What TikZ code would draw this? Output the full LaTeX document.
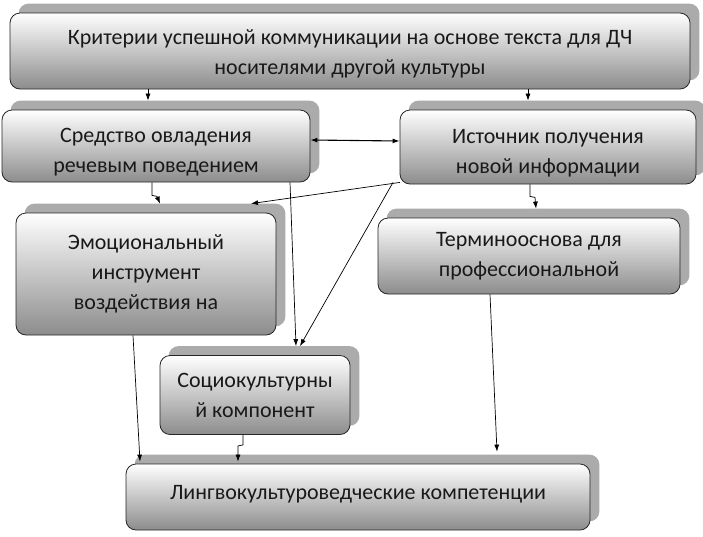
\documentclass[tikz,border=0pt]{standalone}
\usepackage{fontspec}
\setmainfont{Carlito}
\usetikzlibrary{arrows.meta,backgrounds}
\begin{document}
\begin{tikzpicture}[x=1pt,y=-1pt,
  box/.style={draw=black!85, line width=0.8pt, rounded corners=10pt,
    top color=white, bottom color=black!45,
    inner sep=0pt, anchor=center},
  shad/.style={fill=black!33, draw=none, rounded corners=10pt},
  txt/.style={align=center, text=black!90, font=\fontsize{22}{30}\selectfont, inner sep=0pt, anchor=center},
  arr/.style={-{Latex[length=7pt,width=5pt]}, line width=0.7pt, black},
  dar/.style={{Latex[length=7pt,width=5pt]}-{Latex[length=7pt,width=5pt]}, line width=1.1pt, black}]
\useasboundingbox (0,0) rectangle (703,536);
\node[box, minimum width=680pt, minimum height=76pt] (top) at (350,51) {};
\node[txt] (topt) at ([yshift=-3pt]top.center)
  {Критерии успешной коммуникации на основе текста для ДЧ\\носителями другой культуры};
\node[box, minimum width=308pt, minimum height=72pt] (sred) at (156,146) {};
\node[txt] (sredt) at ([yshift=-6pt]sred.center) {Средство овладения\\речевым поведением};
\node[box, minimum width=296pt, minimum height=74pt] (ist) at (548,147) {};
\node[txt] (istt) at ([yshift=-6pt]ist.center) {Источник получения\\новой информации};
\node[box, minimum width=260pt, minimum height=122pt] (emo) at (146,274) {};
\node[txt] (emot) at (emo.center) {Эмоциональный\\инструмент\\воздействия на};
\node[box, minimum width=302pt, minimum height=76pt] (term) at (529,256) {};
\node[txt] (termt) at (term.center) {Терминооснова для\\профессиональной};
\node[box, minimum width=190pt, minimum height=79pt] (soc) at (255,395) {};
\node[txt] (soct) at (soc.center) {Социокультурны\\й компонент};
\node[box, minimum width=464pt, minimum height=66pt] (ling) at (358,497) {};
\node[txt] (lingt) at ([yshift=3pt]ling.center) {Лингвокультуроведческие компетенции};
\begin{scope}[on background layer]
  \foreach \n in {top,sred,ist,emo,term,soc,ling}
    \fill[shad] ([shift={(9pt,9pt)}]\n.south west) rectangle ([shift={(9pt,9pt)}]\n.north east);
\end{scope}
% connectors
\draw[arr] ([xshift=-202pt]top.south) -- ([xshift=-8pt,yshift=9pt]sred.north);
\draw[arr] ([xshift=178pt]top.south) -- ([xshift=-20pt,yshift=9pt]ist.north);
\draw[dar] ([yshift=6pt]sred.east) -- ([yshift=6pt]ist.west);
\draw[arr] ([xshift=-4pt]sred.south) -- ++(0,13) -- ++(5,1) -- ([xshift=14pt,yshift=9pt]emo.north);
\draw[arr] ([xshift=-148pt,yshift=2pt]ist.south) -- ([xshift=105pt,yshift=9pt]emo.north);
\draw[arr] ([xshift=134pt]sred.south) -- ([xshift=41pt,yshift=9pt]soc.north);
\draw[arr] ([xshift=-155pt,yshift=2pt]ist.south) -- ([xshift=45pt,yshift=9pt]soc.north);
\draw[arr] ([xshift=-18pt]ist.south) -- ++(0,12) -- ++(5,1) -- ([xshift=7pt,yshift=9pt]term.north);
\draw[arr] ([xshift=-39pt]term.south) -- ([xshift=139pt,yshift=12pt]ling.north);
\draw[arr] ([xshift=-13pt]emo.south) -- ([xshift=-218pt,yshift=2pt]ling.north);
\draw[arr] ([xshift=-12pt]soc.south) -- ++(0,10) -- ++(-5,1) -- ([xshift=-120pt,yshift=2pt]ling.north);
\end{tikzpicture}
\end{document}
